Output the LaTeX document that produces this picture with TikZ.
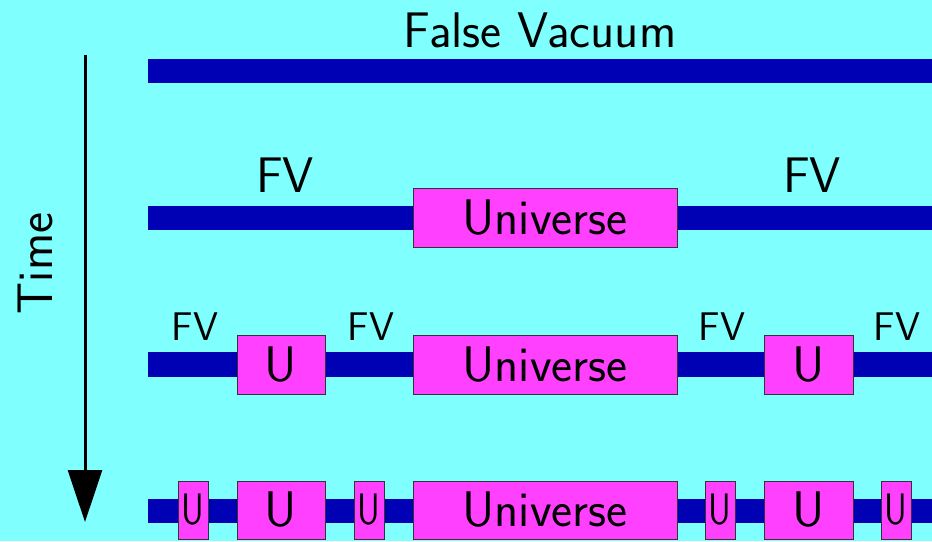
\documentclass[tikz,border=0pt]{standalone}
\usepackage{tikz}
\usetikzlibrary{arrows.meta}
\definecolor{bgcyan}{RGB}{128,255,255}
\definecolor{barblue}{RGB}{0,0,180}
\definecolor{unimag}{RGB}{255,64,255}
\tikzset{
  bar/.style={fill=barblue},
  ubox/.style={draw=black!80, line width=0.5pt, fill=unimag, inner sep=0pt,
    font=\sffamily\fontsize{25}{30}\selectfont},
  fvlabel/.style={font=\sffamily\fontsize{20}{24}\selectfont, anchor=base},
}
\newcommand{\smallu}{\scalebox{0.8}[1]{\fontsize{22}{26}\selectfont U}}
\begin{document}
\begin{tikzpicture}[x=0.5pt, y=-0.5pt]
    \fill[bgcyan] (0,0) rectangle (932,541);
    \useasboundingbox (0,0) rectangle (932,541);
    % time axis
    \draw[line width=1.5pt, -{Triangle[width=17pt,length=26pt]}] (85,55) coordinate (tstart) -- (85,522) coordinate (tend);
    \node[rotate=90, anchor=base, font=\sffamily\fontsize{25}{30}\selectfont] (time) at (52,263.5) {Time};
    % the four bars
    \foreach \ya/\yb in {59/83, 206/230, 352/377, 499/523}
      \fill[bar] (148,\ya) rectangle (932,\yb);
    \node[anchor=base, font=\sffamily\fontsize{25}{30}\selectfont] (fvtitle) at (540,47) {False Vacuum};
    % second row
    \node[ubox, minimum width=132pt, minimum height=29.5pt] (uni2) at (545,217.5) {Universe};
    \node[anchor=base, font=\sffamily\fontsize{25}{30}\selectfont] (fv2a) at (285,192) {FV};
    \node[anchor=base, font=\sffamily\fontsize{25}{30}\selectfont] (fv2b) at (812,192) {FV};
    % third row
    \node[ubox, minimum width=132pt, minimum height=29.5pt] (uni3) at (545,364.5) {Universe};
    \node[ubox, minimum width=44pt, minimum height=29.5pt] (u3a) at (281,364.5) {U};
    \node[ubox, minimum width=44.5pt, minimum height=29.5pt] (u3b) at (808.5,364.5) {U};
    \foreach \x [count=\i] in {195, 371, 722, 897}
      \node[fvlabel] (fv3-\i) at (\x,340) {FV};
    % fourth row
    \node[ubox, minimum width=132pt, minimum height=29pt] (uni4) at (545,510) {Universe};
    \node[ubox, minimum width=44pt, minimum height=29pt] (u4a) at (281,510) {U};
    \node[ubox, minimum width=44.5pt, minimum height=29pt] (u4b) at (808.5,510) {U};
    \foreach \x [count=\i] in {193, 369, 720, 896}
      \node[ubox, minimum width=15pt, minimum height=29pt] (s4-\i) at (\x,510) {\smallu};
\end{tikzpicture}
\end{document}
